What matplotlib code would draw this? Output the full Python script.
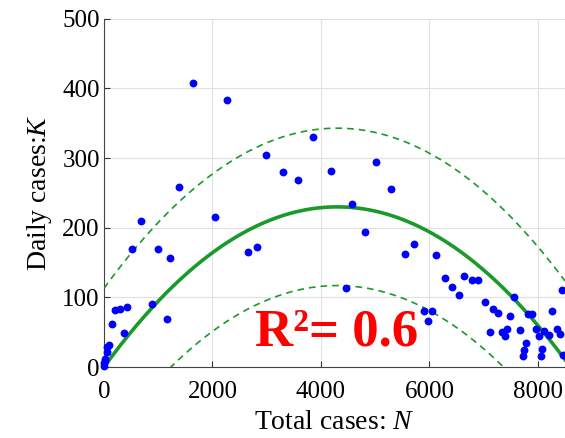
import numpy as np
import matplotlib
matplotlib.use("Agg")
import matplotlib.pyplot as plt

# Observed data (total cases N, daily cases K)
N_obs = [0, 5, 10, 18, 49, 49, 98, 142, 203, 295, 375, 430, 516, 682, 885, 990, 1161,
         1223, 1382, 1646, 2052, 2267, 2654, 2820, 2992, 3293, 3576, 3847, 4178, 4455,
         4578, 4811, 5008, 5297, 5554, 5720, 5898, 5978, 6052, 6126, 6286, 6421, 6538,
         6642, 6777, 6900, 7029, 7121, 7171, 7263, 7342, 7386, 7429, 7489, 7563, 7668,
         7717, 7736, 7773, 7810, 7883, 7957, 8018, 8055, 8079, 8110, 8203, 8252, 8344,
         8400, 8448, 8455]
K_obs = [2, 6, 9, 12, 21, 29, 32, 62, 82, 84, 49, 86, 170, 209, 90, 169, 69,
         157, 259, 408, 216, 384, 165, 172, 305, 280, 268, 331, 282, 114,
         234, 194, 295, 256, 162, 176, 80, 66, 80, 161, 128, 115, 103,
         131, 125, 125, 93, 50, 83, 77, 50, 44, 54, 73, 101, 53,
         16, 24, 35, 76, 76, 55, 44, 16, 26, 52, 46, 81, 54,
         47, 110, 18]

# Fitted parabola parameters
K_peak = 230.0
N_peak = 4300.0
band = 113.0

x_ticks = [0, 2000, 4000, 6000, 8000]
y_ticks = [0, 100, 200, 300, 400, 500]

plt.rcParams['font.family'] = ['Liberation Serif', 'DejaVu Serif']
plt.rcParams['mathtext.fontset'] = 'custom'
plt.rcParams['mathtext.it'] = 'Liberation Serif:italic'
plt.rcParams['mathtext.rm'] = 'Liberation Serif'

fig = plt.figure(figsize=(5.65, 4.38), dpi=100)
ax = fig.add_axes([0.184, 0.162, 0.816, 0.795])

Nf = np.linspace(0, 8500, 400)
Kf = K_peak * (1 - ((Nf - N_peak) / N_peak) ** 2)
green = '#1a9a2a'
ax.plot(Nf, Kf, color=green, lw=2.6, zorder=3)
ax.plot(Nf, Kf + band, color=green, lw=1.2, ls=(0, (4, 3)), zorder=3)
ax.plot(Nf, Kf - band, color=green, lw=1.2, ls=(0, (4, 3)), zorder=3)

ax.scatter(N_obs, K_obs, s=32, color='#0000ff', zorder=4, clip_on=False, linewidths=0)

ax.text(2780, 31, 'R²= 0.6', color='#ff0000', fontsize=38, fontweight='bold',
        va='baseline', ha='left', zorder=5)

ax.set_xlim(0, 8500)
ax.set_ylim(0, 500)
ax.set_xticks(x_ticks)
ax.set_yticks(y_ticks)
ax.tick_params(labelsize=18, direction='in', length=4, color='#333333', pad=3)
ax.tick_params(axis='x', pad=10)
ax.grid(True, color='#e0e0e0', lw=0.8)
ax.set_axisbelow(True)
for s in ['top', 'right']:
    ax.spines[s].set_visible(False)
for s in ['left', 'bottom']:
    ax.spines[s].set_color('#444444')
    ax.spines[s].set_linewidth(0.8)

ax.set_xlabel('Total cases: $\\mathit{N}$', fontsize=20, labelpad=5)
ax.set_ylabel('Daily cases:$\\mathit{K}$', fontsize=20, labelpad=6)

fig.savefig('out.png', dpi=100)
